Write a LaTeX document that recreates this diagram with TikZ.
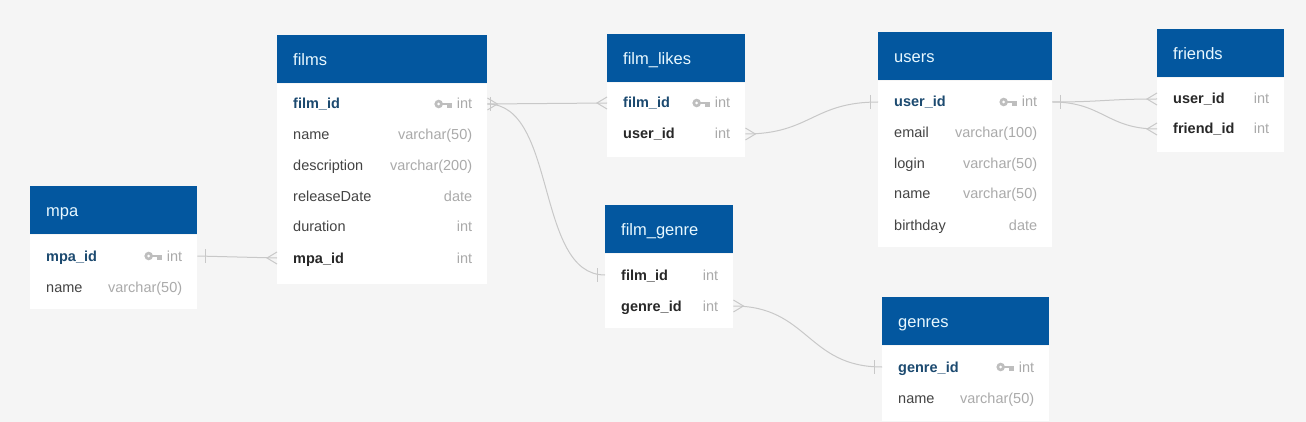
\documentclass[tikz,border=0pt]{standalone}
\usepackage{fontspec}
\setmainfont{Liberation Sans}
\usetikzlibrary{calc}
\definecolor{bgc}{RGB}{245,245,245}
\definecolor{hdrc}{RGB}{3,87,159}
\definecolor{hdrtxtc}{RGB}{232,248,255}
\definecolor{keyc}{RGB}{28,74,112}
\definecolor{fkc}{RGB}{40,40,40}
\definecolor{fieldc}{RGB}{68,68,68}
\definecolor{typec}{RGB}{170,170,170}
\definecolor{keyiconc}{RGB}{190,190,190}
\definecolor{connc}{RGB}{200,200,200}
\tikzset{
  hdrbox/.style={fill=hdrc, draw=none, inner sep=0pt, rectangle},
  bodybox/.style={fill=white, draw=none, inner sep=0pt, rectangle},
  rowbox/.style={draw=none, inner sep=0pt, rectangle, minimum height=30},
  hdrtxt/.style={text=hdrtxtc, inner sep=0pt, font=\fontsize{16.5}{19}\selectfont},
  plainf/.style={text=fieldc, inner sep=0pt, font=\fontsize{14.5}{17}\selectfont},
  keyf/.style={text=keyc, inner sep=0pt, font=\fontsize{14.5}{17}\selectfont\bfseries},
  fkf/.style={text=fkc, inner sep=0pt, font=\fontsize{14.5}{17}\selectfont\bfseries},
  typetxt/.style={text=typec, inner sep=0pt, font=\fontsize{14.5}{17}\selectfont},
  conn/.style={draw=connc, line width=1pt},
  onebar/.pic={\draw[conn] (0,-7) -- (0,7);},
  crowW/.pic={\draw[conn] (0,-6) -- (-10,0) -- (0,6);},
  crowE/.pic={\draw[conn] (0,-6) -- (10,0) -- (0,6);},
  keyicon/.pic={
    \fill[keyiconc] (-14,0) circle (4.3);
    \fill[white] (-14,0) circle (1.5);
    \fill[keyiconc] (-10.5,-1.4) rectangle (-1,1.4);
    \fill[keyiconc] (-5.5,0) rectangle (-1,3.8);
  }
}
% table: id, title, x, top, width, bottom
\newcommand\ertable[6]{%
  \node[hdrbox, minimum width=#5, minimum height=48, anchor=north west] (#1) at (#3,#4) {};
  \node[bodybox, minimum width=#5, minimum height=#6-#4-48, anchor=north west] (#1-body) at (#1.south west) {};
  \node[hdrtxt, anchor=base west] (#1-title) at ([xshift=16pt,yshift=-6pt]#1.west) {#2};
}
% row: id, x, y, width, style, field, type
\newcommand\errow[7]{%
  \node[rowbox, minimum width=#4, anchor=west] (#1) at (#2,#3) {};
  \node[#5, anchor=base west] (#1-f) at ([xshift=16pt,yshift=-5pt]#1.west) {#6};
  \node[typetxt, anchor=base east] (#1-t) at ([xshift=-15pt,yshift=-5pt]#1.east) {#7};
}
\newcommand\erkey[1]{\pic at ($(#1-t.west |- #1.center)+(-4,0)$) {keyicon};}
\begin{document}
\begin{tikzpicture}[x=1pt,y=-1pt]
\useasboundingbox (0,0) rectangle (1306,422);
\fill[bgc] (0,0) rectangle (1306,422);

% films
\ertable{films}{films}{277}{35}{210}{283}
\errow{films-filmid}{277}{104}{210}{keyf}{film\_id}{int}
\erkey{films-filmid}
\errow{films-name}{277}{135}{210}{plainf}{name}{varchar(50)}
\errow{films-desc}{277}{166}{210}{plainf}{description}{varchar(200)}
\errow{films-rel}{277}{197}{210}{plainf}{releaseDate}{date}
\errow{films-dur}{277}{227}{210}{plainf}{duration}{int}
\errow{films-mpaid}{277}{258}{210}{fkf}{mpa\_id}{int}

% film_likes
\ertable{filmlikes}{film\_likes}{607}{34}{138}{156}
\errow{filmlikes-filmid}{607}{103}{138}{keyf}{film\_id}{int}
\erkey{filmlikes-filmid}
\errow{filmlikes-userid}{607}{134}{138}{fkf}{user\_id}{int}

% users
\ertable{users}{users}{878}{32}{174}{246}
\errow{users-userid}{878}{102}{174}{keyf}{user\_id}{int}
\erkey{users-userid}
\errow{users-email}{878}{133}{174}{plainf}{email}{varchar(100)}
\errow{users-login}{878}{164}{174}{plainf}{login}{varchar(50)}
\errow{users-name}{878}{194}{174}{plainf}{name}{varchar(50)}
\errow{users-bday}{878}{225}{174}{plainf}{birthday}{date}

% friends
\ertable{friends}{friends}{1157}{29}{127}{151}
\errow{friends-userid}{1157}{99}{127}{fkf}{user\_id}{int}
\errow{friends-friendid}{1157}{129}{127}{fkf}{friend\_id}{int}

% mpa
\ertable{mpa}{mpa}{30}{186}{167}{308}
\errow{mpa-mpaid}{30}{256}{167}{keyf}{mpa\_id}{int}
\erkey{mpa-mpaid}
\errow{mpa-name}{30}{287}{167}{plainf}{name}{varchar(50)}

% film_genre
\ertable{filmgenre}{film\_genre}{605}{205}{128}{327}
\errow{filmgenre-filmid}{605}{275}{128}{fkf}{film\_id}{int}
\errow{filmgenre-genreid}{605}{306}{128}{fkf}{genre\_id}{int}

% genres
\ertable{genres}{genres}{882}{297}{167}{420}
\errow{genres-genreid}{882}{367}{167}{keyf}{genre\_id}{int}
\erkey{genres-genreid}
\errow{genres-name}{882}{398}{167}{plainf}{name}{varchar(50)}

% connectors
\draw[conn] (mpa-mpaid.east) -- (films-mpaid.west);
\pic at ([xshift=8pt]mpa-mpaid.east) {onebar};
\pic at (films-mpaid.west) {crowW};

\draw[conn] (films-filmid.east) -- (filmlikes-filmid.west);
\pic at (films-filmid.east) {crowE};
\pic at ([xshift=3pt]films-filmid.east) {onebar};
\pic at (filmlikes-filmid.west) {crowW};

\draw[conn] (films-filmid.east) .. controls +(70,0) and +(-70,0) .. (filmgenre-filmid.west);
\pic at ([xshift=-8pt]filmgenre-filmid.west) {onebar};

\draw[conn] (filmlikes-userid.east) .. controls +(65,0) and +(-65,0) .. (users-userid.west);
\pic at (filmlikes-userid.east) {crowE};
\pic at ([xshift=-8pt]users-userid.west) {onebar};

\draw[conn] (users-userid.east) .. controls +(50,0) and +(-50,0) .. (friends-userid.west);
\draw[conn] (users-userid.east) .. controls +(50,0) and +(-50,0) .. (friends-friendid.west);
\pic at ([xshift=8pt]users-userid.east) {onebar};
\pic at (friends-userid.west) {crowW};
\pic at (friends-friendid.west) {crowW};

\draw[conn] (filmgenre-genreid.east) .. controls +(75,0) and +(-75,0) .. (genres-genreid.west);
\pic at (filmgenre-genreid.east) {crowE};
\pic at ([xshift=-8pt]genres-genreid.west) {onebar};
\end{tikzpicture}
\end{document}
